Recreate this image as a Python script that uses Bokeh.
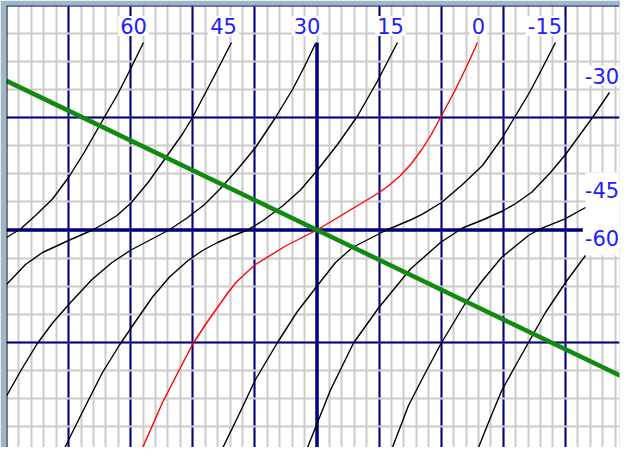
from bokeh.plotting import figure
from bokeh.models import Range1d, Grid, FixedTicker, Span, Label, BoxAnnotation
from bokeh.embed import file_html
from bokeh.resources import INLINE

# ---- chart data (chart units: x right, y up, origin at the thick cross) ----
c60_x = [-173.5, -187.0, -199.5, -212.5, -232.5, -248.5, -264.5, -281.5, -296.5, -310.5]
c60_y = [187.5, 160.0, 135.5, 113.0, 78.0, 52.5, 31.0, 14.5, 1.0, -7.5]

c45_x = [-85.5, -103.5, -124.5, -134.5, -151.5, -168.5, -186.0, -200.0, -214.5, -224.5, -248.5, -274.5, -291.5, -310.5]
c45_y = [187.5, 152.5, 112.5, 96.0, 72.0, 48.0, 27.0, 14.5, 5.5, 0.0, -10.5, -22.5, -34.5, -54.5]

c30_x = [-1.5, -12.5, -24.5, -41.5, -61.5, -80.0, -97.0, -113.0, -130.0, -148.0, -167.0, -186.0, -205.0, -225.0, -246.0, -264.5, -280.0, -295.5, -310.5]
c30_y = [186.5, 163.5, 140.5, 112.5, 82.5, 60.0, 41.0, 25.0, 12.0, 0.0, -10.0, -20.0, -32.5, -49.5, -72.0, -93.0, -114.0, -139.5, -166.0]

c15_x = [80.5, 60.5, 40.5, 20.5, 0.5, -16.5, -34.5, -54.5, -69.5, -84.5, -99.5, -114.5, -129.5, -147.5, -164.5, -180.5, -197.5, -214.5, -228.5, -244.5, -254.5]
c15_y = [187.5, 149.0, 114.0, 85.5, 60.0, 40.0, 24.0, 9.0, 0.0, -6.0, -12.5, -20.5, -31.0, -47.0, -67.0, -90.0, -115.0, -142.5, -170.0, -202.0, -222.5]

c0_x = [160.5, 151.5, 138.5, 123.5, 114.0, 104.5, 94.0, 83.5, 72.0, 61.5, 32.5, 0.0, -31.5, -61.5, -71.0, -81.5, -90.0, -99.5, -111.5, -124.5, -137.5, -154.5, -176.5]
c0_y = [187.5, 167.5, 140.5, 112.5, 95.0, 80.0, 66.0, 54.5, 44.5, 37.0, 19.5, 0.0, -16.0, -34.5, -43.0, -53.0, -64.0, -77.5, -94.5, -114.5, -139.5, -172.5, -222.5]

cm15_x = [238.5, 221.5, 212.5, 197.5, 184.5, 165.5, 145.5, 124.5, 105.5, 94.5, 68.5, 35.5, 18.5, 0.5, -20.0, -39.5, -61.5, -78.5, -96.5]
cm15_y = [187.5, 154.5, 137.5, 112.5, 91.0, 64.5, 45.5, 27.5, 15.8, 10.5, -0.5, -17.5, -32.5, -55.5, -82.0, -112.5, -149.5, -185.5, -222.5]

cm30_x = [292.5, 275.5, 248.5, 233.5, 215.0, 198.0, 185.5, 165.5, 145.5, 123.5, 93.5, 61.5, 36.5, 13.5, -11.5]
cm30_y = [137.5, 112.5, 75.5, 57.5, 38.0, 26.0, 19.0, 10.0, 2.0, -12.5, -39.0, -78.0, -113.0, -160.0, -222.5]

cm45_x = [268.5, 247.5, 222.5, 211.5, 184.5, 165.5, 147.5, 123.5, 107.5, 91.5, 73.5]
cm45_y = [22.5, 10.8, 0.8, -5.5, -27.5, -50.5, -74.5, -114.5, -144.5, -175.5, -222.5]

cm60_x = [268.5, 248.5, 228.5, 211.5, 197.5, 184.5, 172.5, 159.5]
cm60_y = [-25.5, -52.5, -82.5, -112.5, -137.5, -161.0, -190.0, -222.5]

green_x = [-310.5, 310.5]
green_y = [149.1, -149.1]

curve_labels = ["60", "45", "30", "15", "0", "-15", "-30", "-45", "-60"]

# ---- layout / style constants ----
X0, X1 = -310.5, 302.5
Y0, Y1 = -217.5, 224.5
MAJ_X, MIN_X = 62.1, 12.42
MAJ_Y, MIN_Y = 112.5, 28.125
NAVY = "#000080"
LABEL_BLUE = "#2020ff"

label_pos = [(-183.5, 204), (-93.5, 204), (-10, 204), (73.5, 204), (161.5, 204),
             (228, 204), (285, 154.5), (285, 40), (285, -8)]

p = figure(width=620, height=447, title=None,
           x_range=Range1d(X0, X1), y_range=Range1d(Y0, Y1),
           x_axis_type=None, y_axis_type=None,
           toolbar_location=None, output_backend="svg",
           min_border_left=6, min_border_right=1, min_border_top=5, min_border_bottom=0,
           border_fill_color="#9cb9c8", background_fill_color="white",
           outline_line_color=None)

x_major = [round(-310.5 + MAJ_X * i, 2) for i in range(11) if i != 5]
x_minor = [round(-310.5 + MIN_X * i, 2) for i in range(51)]
y_major = [-225.0, -112.5, 112.5, 225.0]
y_minor = [round(-225 + MIN_Y * i, 3) for i in range(17)]

gx = Grid(dimension=0, ticker=FixedTicker(ticks=x_major, minor_ticks=x_minor),
          grid_line_color=NAVY, grid_line_width=2,
          minor_grid_line_color="#cbcbcb", minor_grid_line_width=2)
gy = Grid(dimension=1, ticker=FixedTicker(ticks=y_major, minor_ticks=y_minor),
          grid_line_color=NAVY, grid_line_width=2,
          minor_grid_line_color="#cbcbcb", minor_grid_line_width=2)
p.add_layout(gx)
p.add_layout(gy)

# white area behind the right-hand labels
p.add_layout(BoxAnnotation(left=268.5, right=X1, bottom=-25.5, top=57.5,
                           fill_color="white", fill_alpha=1.0, line_color=None,
                           level="underlay"))

# thick central cross
p.segment(x0=[0, -310.5], y0=[187.5, 0], x1=[0, 268.5], y1=[-225, 0],
          line_color=NAVY, line_width=3.5)

# left frame edge
p.add_layout(Span(location=X0, dimension="height", line_color="black", line_width=2))

curves = [(c60_x, c60_y), (c45_x, c45_y), (c30_x, c30_y), (c15_x, c15_y),
          (c0_x, c0_y), (cm15_x, cm15_y), (cm30_x, cm30_y), (cm45_x, cm45_y), (cm60_x, cm60_y)]
for lab, (cx, cy) in zip(curve_labels, curves):
    color = "#ff0000" if lab == "0" else "black"
    p.line(cx, cy, line_color=color, line_width=1.4, line_join="round")

p.line(green_x, green_y, line_color="#128a12", line_width=4.5)

for lab, (lx, ly) in zip(curve_labels, label_pos):
    p.add_layout(Label(x=lx, y=ly, text=lab, text_align="center", text_baseline="middle",
                       text_font="DejaVu Sans", text_font_size="21px", text_color=LABEL_BLUE,
                       background_fill_color="white", background_fill_alpha=1.0, padding=2))

open("out.html", "w").write(file_html(p, INLINE))
